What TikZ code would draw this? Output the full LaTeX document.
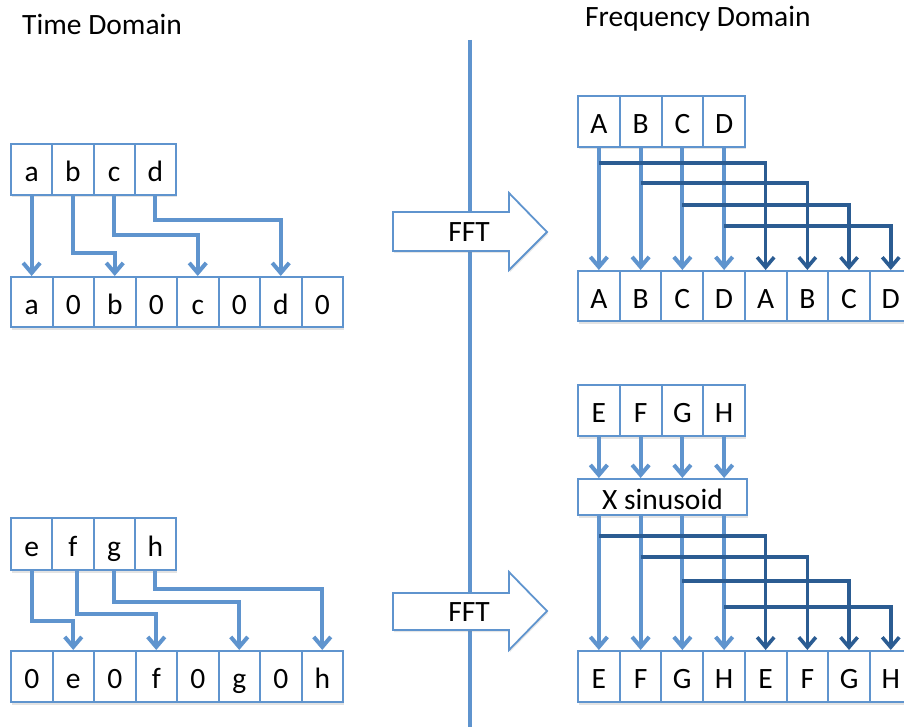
\documentclass[tikz,border=0pt]{standalone}
\usepackage{fontspec}
\setmainfont{Carlito}
\usetikzlibrary{arrows.meta,shadows}
\definecolor{lightblue}{RGB}{95,148,206}
\definecolor{darkblue}{RGB}{43,92,146}
\begin{document}
\begin{tikzpicture}[x=1pt,y=-1pt,
  every node/.style={font=\fontsize{29.5}{35}\selectfont},
  cell/.style={draw=lightblue, line width=2pt, fill=white, inner sep=0pt,
    minimum height=51pt, text height=24pt, text depth=0pt,
    drop shadow={shadow xshift=1pt, shadow yshift=-2.5pt, opacity=0.22}},
  lt/.style={draw=lightblue, line width=4pt,
    -{Straight Barb[length=10pt,width=17pt]}},
  dk/.style={draw=darkblue, line width=3.6pt,
    -{Straight Barb[length=10pt,width=17pt]}},
  fftshape/.style={draw=lightblue, line width=1.8pt, fill=white, line join=miter,
    drop shadow={shadow xshift=1pt, shadow yshift=-2pt, opacity=0.2}},
  divider/.style={draw=lightblue, line width=4.5pt}]

\useasboundingbox (0,0) rectangle (904,727);
\clip (0,0) rectangle (904,727);

% headings
\node[anchor=base west, inner sep=0pt] (tdom) at (22,35) {Time Domain};
\node[anchor=base west, inner sep=0pt] (fdom) at (585,27) {Frequency Domain};

% dividing line between the two domains
\coordinate (vtop) at (470,40);
\coordinate (vbot) at (470,727);
\draw[divider] (vtop) -- (vbot);

% FFT arrows
\draw[fftshape] (393,212) -- (509,212) -- (509,193) -- (547,232) -- (509,270)
  -- (509,251) -- (393,251) -- cycle;
\node[anchor=base] (fft1) at (469,242) {FFT};
\draw[fftshape] (393,593) -- (509,593) -- (509,572) -- (547,611) -- (509,650)
  -- (509,630) -- (393,630) -- cycle;
\node[anchor=base] (fft2) at (469,621) {FFT};

% ---- time domain, upper: interleave with zeros ----
\foreach \t [count=\i] in {a,b,c,d}
  \node[cell, minimum width=41.25pt] (ta\i) at ({11+41.25*(\i-0.5)},169.5) {\t};
\foreach \t [count=\i] in {a,0,b,0,c,0,d,0}
  \node[cell, minimum width=41.5pt, minimum height=50pt] (ba\i) at ({11+41.5*(\i-0.5)},302) {\t};
\draw[lt] (ta1.south) -- (ta1.south |- ba1.north);
\draw[lt] (ta2.south) -- ++(0,57) -| (ba3.north);
\draw[lt] (ta3.south) -- ++(0,39) -| (ba5.north);
\draw[lt] (ta4.south) -- ++(0,24) -| (ba7.north);

% ---- time domain, lower: shifted interleave ----
\foreach \t [count=\i] in {e,f,g,h}
  \node[cell, minimum width=41.25pt, minimum height=52pt] (te\i) at ({11+41.25*(\i-0.5)},544) {\t};
\foreach \t [count=\i] in {0,e,0,f,0,g,0,h}
  \node[cell, minimum width=41.5pt] (be\i) at ({11+41.5*(\i-0.5)},676.5) {\t};
\draw[lt] (te1.south) -- ++(0,50) -| (be2.north);
\draw[lt] ([xshift=4pt]te2.south) -- ++(0,43) -| (be4.north);
\draw[lt] (te3.south) -- ++(0,31) -| (be6.north);
\draw[lt] (te4.south) -- ++(0,18) -| (be8.north);

% ---- frequency domain, upper: spectrum repeated ----
\foreach \t [count=\i] in {A,B,C,D}
  \node[cell, minimum width=41.75pt] (tf\i) at ({578+41.75*(\i-0.5)},121.5) {\t};
\foreach \t [count=\i] in {A,B,C,D,A,B,C,D}
  \node[cell, minimum width=41.7pt, minimum height=50pt] (bf\i) at ({578+41.7*(\i-0.5)},296) {\t};
\foreach \i in {1,...,4}
  \draw[lt] (tf\i.south) -- (tf\i.south |- bf\i.north);
\foreach \i/\yy [evaluate=\i as \j using int(\i+4)] in {1/163,2/183,3/205,4/226}
  \draw[dk] (tf\i.south |- 0,\yy) -| (bf\j.north);

% ---- frequency domain, lower: repeated after sinusoid multiply ----
\foreach \t [count=\i] in {E,F,G,H}
  \node[cell, minimum width=41.75pt] (tg\i) at ({578+41.75*(\i-0.5)},410.5) {\t};
\node[cell, minimum width=169pt, minimum height=36pt] (sx) at (662.5,497) {X sinusoid};
\foreach \t [count=\i] in {E,F,G,H,E,F,G,H}
  \node[cell, minimum width=41.7pt] (bg\i) at ({578+41.7*(\i-0.5)},676.5) {\t};
\foreach \i in {1,...,4} {
  \draw[lt] (tg\i.south) -- (tg\i.south |- sx.north);
  \draw[lt] (tg\i.south |- sx.south) -- (tg\i.south |- bg\i.north);
}
\foreach \i/\yy [evaluate=\i as \j using int(\i+4)] in {1/536,2/557,3/581,4/607}
  \draw[dk] (tg\i.south |- 0,\yy) -| (bg\j.north);

\end{tikzpicture}
\end{document}
